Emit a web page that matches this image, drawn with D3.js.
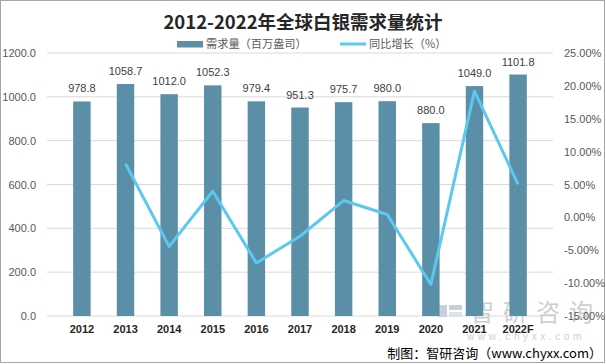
<!DOCTYPE html>
<html><head><meta charset="utf-8">
<script src="https://cdn.jsdelivr.net/npm/d3@7"></script>
<style>body{margin:0;background:#fff}svg{display:block;font-family:"Noto Sans CJK SC","Liberation Sans",sans-serif}</style>
</head><body>
<svg id="c" width="606" height="364"></svg>
<script>
const categories = ["2012","2013","2014","2015","2016","2017","2018","2019","2020","2021","2022F"];
const demand = [978.8,1058.7,1012.0,1052.3,979.4,951.3,975.7,980.0,880.0,1049.0,1101.8];
const growth = [null,8.16,-4.41,3.98,-6.93,-2.87,2.56,0.44,-10.2,19.2,5.03];
const leftTicks = [0,200,400,600,800,1000,1200];
const rightTicks = [-15,-10,-5,0,5,10,15,20,25];

const svg = d3.select("#c");
const L = 47, R = 553, T = 53, B = 316;
svg.append("rect").attr("x",0.5).attr("y",0.5).attr("width",604).attr("height",362)
  .attr("fill","#fff").attr("stroke","#a6a6a6").attr("stroke-width",1);

const x = d3.scaleBand().domain(categories).range([L,R]).padding(0.6);
const y = d3.scaleLinear().domain([0,1200]).range([B,T]);
const y2 = d3.scaleLinear().domain([-15,25]).range([B,T]);

// gridlines
svg.append("g").selectAll("line").data(leftTicks).join("line")
  .attr("x1",L).attr("x2",R).attr("y1",d=>y(d)).attr("y2",d=>y(d))
  .attr("stroke","#d9d9d9").attr("stroke-width",1);

// watermark
const wm = svg.append("g");
wm.append("rect").attr("x",438).attr("y",305).attr("width",9).attr("height",12).attr("fill","#c5d0dc");
wm.append("rect").attr("x",449).attr("y",305).attr("width",13).attr("height",5).attr("fill","#c5d0dc");
wm.append("rect").attr("x",449).attr("y",312).attr("width",13).attr("height",5).attr("fill","#dde3ea");
wm.append("text").attr("x",470).attr("y",321).attr("font-size",24).attr("letter-spacing",9).attr("fill","#cfcfcf").text("智研咨询");
wm.append("text").attr("x",467).attr("y",340).attr("font-size",10).attr("letter-spacing",3.6).attr("fill","#cfcfcf").attr("font-family","Liberation Sans").text("www.chyxx.com");

// bars
svg.append("g").selectAll("rect").data(categories).join("rect")
  .attr("x",d=>x(d)).attr("width",x.bandwidth())
  .attr("y",(d,i)=>y(demand[i])).attr("height",(d,i)=>B-y(demand[i]))
  .attr("fill","#5b8fa8");

// labels
svg.append("g").selectAll("text").data(categories).join("text")
  .attr("x",d=>x(d)+x.bandwidth()/2).attr("y",(d,i)=>y(demand[i])-9)
  .attr("text-anchor","middle").attr("font-size",11).attr("fill","#404040")
  .attr("font-family","Liberation Sans").text((d,i)=>demand[i].toFixed(1));

// line
const line = d3.line().defined(d=>d.v!==null)
  .x(d=>x(d.c)+x.bandwidth()/2).y(d=>y2(d.v));
svg.append("path").datum(categories.map((c,i)=>({c,v:growth[i]})))
  .attr("d",line).attr("fill","none").attr("stroke","#5bc8f0").attr("stroke-width",3)
  .attr("stroke-linejoin","round");

// left axis
const la = svg.append("g").attr("transform",`translate(${L},0)`)
  .call(d3.axisLeft(y).tickValues(leftTicks).tickFormat(d=>d.toFixed(1)).tickSize(0).tickPadding(11));
la.select(".domain").remove();
la.selectAll("text").attr("font-size",11).attr("fill","#595959").attr("font-family","Liberation Sans");

// right axis
const ra = svg.append("g").attr("transform",`translate(${R},0)`)
  .call(d3.axisRight(y2).tickValues(rightTicks).tickFormat(d=>d.toFixed(2)+"%").tickSize(0).tickPadding(11));
ra.select(".domain").remove();
ra.selectAll("text").attr("font-size",11).attr("fill","#595959").attr("font-family","Liberation Sans");

// x axis
const xa = svg.append("g").attr("transform",`translate(0,${B})`)
  .call(d3.axisBottom(x).tickSize(0).tickPadding(9));
xa.select(".domain").remove();
xa.selectAll("text").attr("font-size",11).attr("font-weight","bold").attr("fill","#262626").attr("font-family","Liberation Sans");

// title
svg.append("text").attr("x",303).attr("y",29).attr("text-anchor","middle")
  .attr("font-size",18.5).attr("font-weight","bold").attr("fill","#262626").text("2012-2022年全球白银需求量统计");

// legend
const lg = svg.append("g");
lg.append("rect").attr("x",177).attr("y",41).attr("width",26).attr("height",6.5).attr("fill","#5b8fa8");
lg.append("text").attr("x",206).attr("y",48).attr("font-size",11.2).attr("fill","#595959").text("需求量（百万盎司）");
lg.append("line").attr("x1",340).attr("x2",366).attr("y1",44).attr("y2",44).attr("stroke","#5bc8f0").attr("stroke-width",3);
lg.append("text").attr("x",369).attr("y",48).attr("font-size",11.2).attr("fill","#595959").text("同比增长（%）");

// source
svg.append("text").attr("x",602).attr("y",358).attr("text-anchor","end")
  .attr("font-size",13).attr("fill","#000").text("制图：智研咨询（www.chyxx.com）");
</script>
</body></html>
